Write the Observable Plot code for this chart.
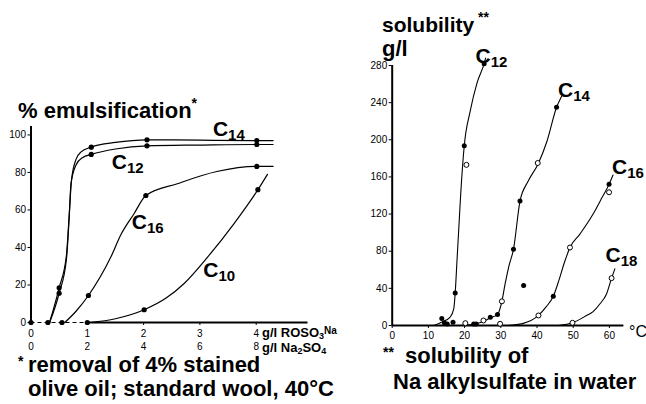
<!DOCTYPE html>
<html><head><meta charset="utf-8">
<script src="https://cdn.jsdelivr.net/npm/d3@7"></script>
<script src="https://cdn.jsdelivr.net/npm/@observablehq/plot@0.6"></script>
<style>
html,body{margin:0;padding:0;background:#fff;}
#wrap{position:relative;width:646px;height:404px;overflow:hidden;font-family:"Liberation Sans",Arial,sans-serif;color:#000;}
#wrap svg{position:absolute;top:0;}
.abs{position:absolute;white-space:nowrap;line-height:1;font-weight:bold;}
</style></head><body><div id="wrap"></div>
<script>
// ---------- Left panel: % emulsification vs g/l ROSO3Na (and g/l Na2SO4) ----------
const rosoTicks = [0, 1, 2, 3, 4];
const na2so4Labels = ["0", "2", "4", "6", "8"];
const emulsTicks = [0, 20, 40, 60, 80, 100];

// measured points
const c10DotX = [1.0, 2.01, 4.03];
const c10DotY = [0, 6.8, 70.8];
const c12DotX = [0.3, 0.5, 1.07, 2.06, 4.01];
const c12DotY = [0, 15.6, 89.6, 94.2, 94.9];
const c14DotX = [0.5, 1.07, 2.06, 4.01];
const c14DotY = [18.5, 93.5, 97.4, 97.0];
const c16DotX = [0.55, 1.02, 2.04, 4.01];
const c16DotY = [0, 14.4, 67.7, 83.2];
const originDotX = [0];
const originDotY = [0];

// drawn curves
const c10LineX = [1.05, 1.5, 2.01, 2.4, 2.72, 3.14, 3.6, 4.03, 4.2];
const c10LineY = [0, 2, 6.8, 13, 20.8, 35, 52.5, 70.8, 79];
const c12LineX = [0.33, 0.5, 0.63, 0.68, 0.71, 0.8, 0.92, 1.07, 1.5, 2.06, 3, 4.01, 4.3];
const c12LineY = [0, 15.6, 34, 57, 74, 84, 88, 89.6, 92.5, 94.2, 94.6, 94.9, 94.9];
const c14LineX = [0.33, 0.5, 0.63, 0.68, 0.72, 0.8, 0.89, 1.07, 1.5, 2.06, 3, 4.01, 4.3];
const c14LineY = [0, 18.5, 36, 58, 76, 87, 91, 93.5, 96, 97.4, 97.2, 97, 97];
const c16LineX = [0.6, 0.8, 1.02, 1.42, 1.6, 1.83, 2.04, 2.6, 3.3, 4.01, 4.3];
const c16LineY = [0, 6, 14.4, 35, 47, 58, 67.7, 74, 80.5, 83.2, 83.2];

const emulsLabels = [
  {c: "C", sub: "14", x: 3.5, y: 99.7},
  {c: "C", sub: "12", x: 1.705, y: 82},
  {c: "C", sub: "16", x: 2.06, y: 50},
  {c: "C", sub: "10", x: 3.33, y: 24.2}
];

// ---------- Right panel: solubility g/l vs °C ----------
const tempTicks = [0, 10, 20, 30, 40, 50, 60];
const solTicks = [0, 40, 80, 120, 160, 200, 240, 280];

const filledT = [13.7, 14.4, 15.2, 16.8, 17.4, 19.9, 25.4, 22.5, 23.2, 27.1, 29.1, 33.5, 35.3, 45.4, 36.3, 44.5, 59.9];
const filledS = [7.5, 3, 1.5, 3.6, 35, 193.5, 282, 1.5, 1.5, 9, 11.9, 82, 134, 235, 43, 31.4, 152];
const hollowT = [20.5, 20.2, 25.2, 30.3, 29.8, 40.2, 40.4, 49.1, 59.9, 49.8, 60.6];
const hollowS = [173, 2.5, 5.4, 26, 1.8, 175, 10.8, 84, 143.5, 2.9, 51];

const s12LineT = [11.5, 13.9, 16, 17.0, 17.4, 17.9, 18.4, 18.9, 19.9, 21.5, 23.5, 25.4, 25.8];
const s12LineS = [0, 4, 9, 18, 35, 70, 105, 140, 193.5, 230, 262, 282, 288];
const s14LineT = [19, 22, 25, 27, 29.1, 30.3, 31.2, 32.3, 33.5, 35.3, 37.5, 40.3, 42.8, 45.4, 46.8];
const s14LineS = [0, 1, 4, 8, 12, 26, 45, 65, 82, 134, 155, 174, 199, 235, 247];
const s16LineT = [32, 36, 40.4, 42.5, 44.5, 46, 47.5, 49.1, 51.9, 55.5, 58, 59.9, 61];
const s16LineS = [0, 2, 10.8, 20, 31.4, 48, 67, 84, 98.7, 120, 138, 152, 162];
const s18LineT = [46, 49.8, 53.7, 55.5, 57.4, 59.2, 60.6, 61.5];
const s18LineS = [0, 2.9, 10.8, 15, 23.4, 34, 51, 61];

const solLabels = [
  {c: "C", sub: "12", x: 27.2, y: 283},
  {c: "C", sub: "14", x: 50.0, y: 246},
  {c: "C", sub: "16", x: 64.9, y: 163},
  {c: "C", sub: "18", x: 63.1, y: 68}
];

// ---------- helpers ----------
const rows = (xs, ys, s) => xs.map((x, i) => ({x, y: ys[i], s}));
const FONT = '"Liberation Sans", Arial, sans-serif';
const na2so4By = new Map(rosoTicks.map((d, i) => [d, na2so4Labels[i]]));

const emulsLines = [
  ...rows(c10LineX, c10LineY, "C10"), ...rows(c12LineX, c12LineY, "C12"),
  ...rows(c14LineX, c14LineY, "C14"), ...rows(c16LineX, c16LineY, "C16")
];
const emulsDots = [
  ...rows(c10DotX, c10DotY, "C10"), ...rows(c12DotX, c12DotY, "C12"),
  ...rows(c14DotX, c14DotY, "C14"), ...rows(c16DotX, c16DotY, "C16"),
  ...rows(originDotX, originDotY, "o")
];

const labelMarks = (data) => [
  Plot.text(data, {x: "x", y: "y", text: "c", textAnchor: "end", lineAnchor: "bottom",
    fontSize: 21, fontWeight: "bold", fontFamily: FONT}),
  Plot.text(data, {x: "x", y: "y", text: "sub", textAnchor: "start", lineAnchor: "bottom",
    dy: 4, fontSize: 15, fontWeight: "bold", fontFamily: FONT})
];

const left = Plot.plot({
  width: 340, height: 404,
  marginLeft: 30.5, marginRight: 32.5, marginTop: 126, marginBottom: 82,
  x: {domain: [0, 4.92], label: null},
  y: {domain: [0, 104.5], label: null},
  style: {fontFamily: FONT, fontSize: "10px", background: "transparent", overflow: "visible"},
  marks: [
    Plot.axisY({ticks: emulsTicks, tickSize: 3, tickPadding: 2, label: null, fontSize: 10}),
    Plot.axisX({ticks: rosoTicks, tickSize: 3, tickPadding: 2, label: null, fontSize: 10,
      lineHeight: 1.3, tickFormat: d => `${d}\n${na2so4By.get(d)}`}),
    Plot.ruleX([0], {strokeWidth: 2}),
    Plot.ruleY([0], {x1: rosoTicks[0], x2: rosoTicks[1], strokeWidth: 1.2, strokeDasharray: "4,3"}),
    Plot.ruleY([0], {x1: rosoTicks[1], x2: 4.92, strokeWidth: 2}),
    Plot.line(emulsLines, {x: "x", y: "y", z: "s", curve: "monotone-x", stroke: "black", strokeWidth: 1.2}),
    Plot.dot(emulsDots, {x: "x", y: "y", r: 2.6, fill: "black", stroke: null}),
    ...labelMarks(emulsLabels)
  ]
});
left.style.left = "0px";

const solLines = [
  ...rows(s12LineT, s12LineS, "C12"), ...rows(s14LineT, s14LineS, "C14"),
  ...rows(s16LineT, s16LineS, "C16"), ...rows(s18LineT, s18LineS, "C18")
];
const right = Plot.plot({
  width: 306, height: 404,
  marginLeft: 51.7, marginRight: 22.6, marginTop: 65, marginBottom: 79,
  x: {domain: [0, 64], label: null},
  y: {domain: [0, 280], label: null},
  style: {fontFamily: FONT, fontSize: "10px", background: "transparent", overflow: "visible"},
  marks: [
    Plot.axisY({ticks: solTicks, tickSize: 3, tickPadding: 2, label: null, fontSize: 10}),
    Plot.axisX({ticks: tempTicks, tickSize: 3, tickPadding: 3, label: null, fontSize: 10}),
    Plot.ruleX([0], {strokeWidth: 2}),
    Plot.ruleY([0], {strokeWidth: 2}),
    Plot.line(solLines, {x: "x", y: "y", z: "s", curve: "monotone-x", stroke: "black", strokeWidth: 1.1}),
    Plot.dot(rows(filledT, filledS, "f"), {x: "x", y: "y", r: 2.5, fill: "black", stroke: null}),
    Plot.dot(rows(hollowT, hollowS, "h"), {x: "x", y: "y", r: 2.5, fill: "white", stroke: "black", strokeWidth: 1}),
    ...labelMarks(solLabels)
  ]
});
right.style.left = "340px";

const wrap = document.getElementById("wrap");
wrap.appendChild(left);
wrap.appendChild(right);

// ---------- texts (titles, units, footnotes) ----------
function put(html, x, baseline, size, weight = "bold") {
  const d = document.createElement("div");
  d.className = "abs";
  d.innerHTML = html;
  d.style.left = x + "px";
  d.style.top = (baseline - 0.8465 * size) + "px";
  d.style.fontSize = size + "px";
  d.style.fontWeight = weight;
  wrap.appendChild(d);
}
const sup = (t, s, v = s * 0.7) => `<span style="font-size:${s}px;vertical-align:${v}px;line-height:1">${t}</span>`;
const sub = (t, s, v = 2) => `<span style="font-size:${s}px;vertical-align:-${v}px;line-height:1">${t}</span>`;

put("% emulsification" + sup("*", 14), 18, 115, 22);
put("solubility" + sup(" **", 14), 382, 28, 21);
put("g/l", 382, 57, 22);
put("g/l ROSO" + sub("3", 9, 1.5) + sup("Na", 10, 3), 262, 337, 13);
put("g/l Na" + sub("2", 9, 1.5) + "SO" + sub("4", 9, 1.5), 262, 352, 13);
put("°C", 629, 338, 16, "normal");
put(sup("*", 14), 18, 373, 22);
put("removal of 4% stained", 28, 373, 22);
put("olive oil; standard wool, 40°C", 28, 397, 22);
put(sup("**", 14), 383, 364, 22);
put("solubility of", 405, 364, 22);
put("Na alkylsulfate in water", 393, 390, 22);
</script></body></html>
